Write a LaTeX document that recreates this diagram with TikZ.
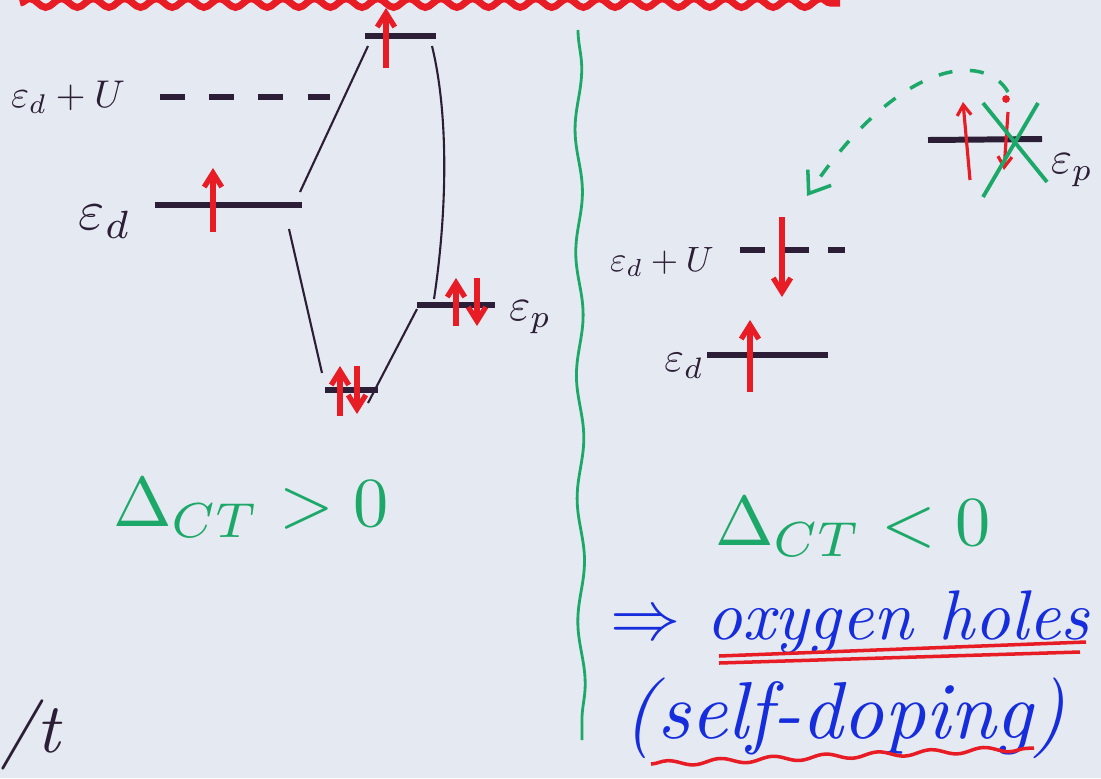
\documentclass[tikz,border=0pt]{standalone}
\usetikzlibrary{arrows.meta,decorations.pathmorphing}
\definecolor{papel}{RGB}{229,233,241}
\definecolor{tinta}{RGB}{45,30,55}
\definecolor{rojo}{RGB}{232,28,36}
\definecolor{verde}{RGB}{28,168,104}
\definecolor{azul}{RGB}{22,45,222}
\begin{document}
\begin{tikzpicture}[x=0.02cm, y=-0.02cm, >={Straight Barb[length=8pt,width=10pt]},
  nivel/.style={line width=3.4pt, tinta},
  enlace/.style={line width=1.2pt, tinta},
  espin/.style={->, line width=3pt, rojo},
  espinfino/.style={->, line width=1.8pt, rojo, >={Straight Barb[length=6pt,width=8pt]}},
  etiq/.style={tinta, scale=#1},
  txtverde/.style={verde, scale=4},
  txtazul/.style={azul, font=\itshape, scale=4},
  onda/.style={decorate, decoration={snake, segment length=#1, amplitude=2.5pt}}]
  \fill[papel] (0,0) rectangle (1101,778);
  \useasboundingbox (0,0) rectangle (1101,778);
  % banda roja de arriba
  \draw[rojo, line width=4pt, onda=18pt] (20,3) -- (840,3);
  % niveles, caso Delta>0
  \coordinate (tA) at (365,36);  \coordinate (tB) at (436,36);
  \coordinate (dA) at (155,205); \coordinate (dB) at (302,205);
  \coordinate (bA) at (325,390); \coordinate (bB) at (378,390);
  \coordinate (pA) at (417,305); \coordinate (pB) at (495,305);
  \coordinate (uA) at (160,97);  \coordinate (uB) at (330,97);
  \draw[nivel] (tA) -- (tB);
  \draw[nivel] (dA) -- (dB);
  \draw[nivel] (bA) -- (bB);
  \draw[nivel] (pA) -- (pB);
  \draw[tinta, line width=3pt, dash pattern=on 14pt off 14pt] (uA) -- (uB);
  \node[etiq=2.2] (lU) at (68,97) {$\varepsilon_d+U$};
  \node[etiq=3.2] (ld) at (105,222) {$\varepsilon_d$};
  \node[etiq=2.6, anchor=west] (lp) at ([shift={(-2,12)}]pB) {$\varepsilon_p$};
  % lineas de hibridacion
  \draw[enlace] ([shift={(3,10)}]tA) -- ([shift={(-2,-13)}]dB);
  \draw[enlace] ([shift={(-13,24)}]dB) -- ([shift={(-3,-17)}]bA);
  \draw[enlace] ([shift={(-4,10)}]tB) .. controls (450,120) and (446,220) .. ([shift={(17,-6)}]pA);
  \draw[enlace] ([shift={(0,4)}]pA) -- ([shift={(-10,13)}]bB);
  % espines
  \draw[espin] (386,68) -- (386,8);
  \draw[espin] (213,232) -- (213,168);
  \draw[espin] (340,416) -- (340,366);
  \draw[espin] (357,366) -- (357,414);
  \draw[espin] (456,326) -- (456,278);
  \draw[espin] (477,278) -- (477,326);
  \node[txtverde] (cpos) at (251,508) {$\Delta_{CT}>0$};
  \node[tinta, font=\itshape, scale=4] (frag) at (30,735) {/t};
  % separador
  \draw[verde, line width=1.6pt, decorate, decoration={snake, segment length=70pt, amplitude=2pt}] (578,30) -- (582,740);
  % caso Delta<0
  \coordinate (qA) at (928,140); \coordinate (qB) at (1042,139);
  \coordinate (eA) at (707,355); \coordinate (eB) at (828,355);
  \coordinate (wA) at (740,250); \coordinate (wB) at (845,250);
  \draw[nivel] (qA) -- (qB);
  \draw[nivel] (eA) -- (eB);
  \draw[tinta, line width=3pt, dash pattern=on 14pt off 11pt] (wA) -- (wB);
  \node[etiq=2.0] (rU) at (662,262) {$\varepsilon_d+U$};
  \node[etiq=2.4] (rd) at (684,366) {$\varepsilon_d$};
  \node[etiq=2.6] (rp) at (1072,170) {$\varepsilon_p$};
  \draw[espinfino] (970,180) -- (963,102);
  \draw[espinfino] (1008,112) -- (1004,170);
  \fill[rojo] (1006,99) circle (2.2pt);
  \draw[verde, line width=2.2pt] (983,103) -- (1047,182);
  \draw[verde, line width=2.2pt] (1038,103) -- (983,197);
  \draw[verde, line width=2pt, dash pattern=on 8pt off 10pt, ->, >={Straight Barb[length=11pt,width=16pt]}]
    (1008,92) .. controls (985,52) and (900,58) .. (807,196);
  \draw[espin] (782,217) -- (782,297);
  \draw[espin] (750,392) -- (750,320);
  \node[txtverde] (cneg) at (853,527) {$\Delta_{CT}<0$};
  \node[txtazul] (oxh) at (850,622) {$\Rightarrow$ oxygen holes};
  \node[txtazul, scale=1.15] (sdop) at (845,718) {(self-doping)};
  \draw[rojo, line width=2pt] (719,656) -- (1086,642);
  \draw[rojo, line width=2pt] (719,663) -- (1080,652);
  \draw[rojo, line width=2pt, decorate, decoration={snake, segment length=30pt, amplitude=1.5pt}] (651,764) -- (1034,748);
\end{tikzpicture}
\end{document}
